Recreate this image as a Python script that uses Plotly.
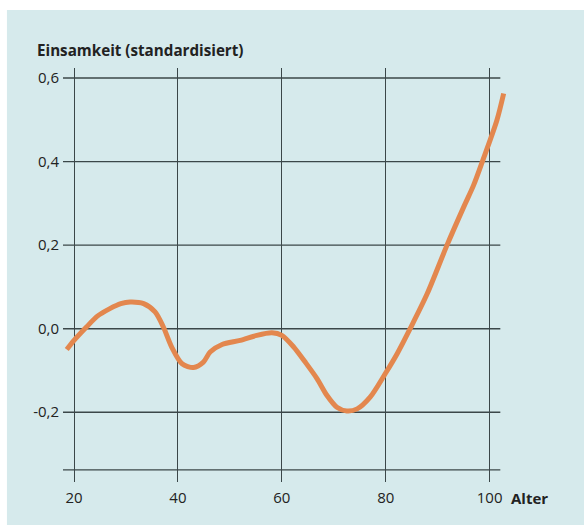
import plotly.graph_objects as go

# ---- data ----
age = [18.6, 20.0, 22.4, 24.5, 26.9, 29.0, 30.8, 33.4, 35.6, 37.2, 38.8, 40.8,
       43.0, 44.9, 46.2, 48.5, 52.0, 55.2, 58.1, 60.0, 62.3, 64.5, 66.8, 68.7,
       70.6, 72.5, 74.5, 77.0, 79.9, 82.2, 84.7, 88.0, 91.8, 95.0, 96.9, 98.6,
       101.4, 102.7]
loneliness = [-0.050, -0.028, 0.004, 0.030, 0.048, 0.060, 0.064, 0.060, 0.040,
              0.004, -0.044, -0.084, -0.093, -0.080, -0.056, -0.038, -0.028,
              -0.016, -0.010, -0.016, -0.044, -0.080, -0.120, -0.160, -0.188,
              -0.197, -0.192, -0.164, -0.108, -0.060, 0.000, 0.084, 0.200,
              0.291, 0.343, 0.400, 0.499, 0.563]

x_ticks = [20, 40, 60, 80, 100]
x_tick_labels = ["20", "40", "60", "80", "100"]
y_ticks = [0.6, 0.4, 0.2, 0.0, -0.2]
y_tick_labels = ["0,6", "0,4", "0,2", "0,0", "-0,2"]
y_baseline = -0.338

# ---- layout geometry ----
W, H = 584, 525
L, R, T, B = 63, 512.6, 68, 482
x_range = [17.88, 104.5]
y_range = [-0.367, 0.624]
grid_x_end = 102.06

def px(xp):
    return (xp - L) / (R - L)

def py(yp):
    return (B - yp) / (B - T)

panel = "#d6eaec"
grid = "#3b4749"
txt = "#222222"
font_fam = "Open Sans"

fig = go.Figure()
fig.add_trace(go.Scatter(
    x=age, y=loneliness, mode="lines",
    line=dict(color="#e3874e", width=5, shape="spline", smoothing=0.8),
    hoverinfo="skip", showlegend=False))

shapes = [dict(type="rect", xref="paper", yref="paper",
               x0=px(7), x1=px(W + 5), y0=py(10), y1=py(H + 5),
               fillcolor=panel, line=dict(width=0), layer="below")]
for yv in y_ticks + [y_baseline]:
    shapes.append(dict(type="line", xref="x", yref="y",
                       x0=x_range[0], x1=grid_x_end, y0=yv, y1=yv,
                       line=dict(color=grid, width=1.4), layer="below"))

fig.update_layout(
    width=W, height=H,
    margin=dict(l=L, r=W - R, t=T, b=H - B, pad=0),
    paper_bgcolor="white", plot_bgcolor="rgba(0,0,0,0)",
    shapes=shapes,
    font=dict(family=font_fam, size=15, color=txt),
    xaxis=dict(range=x_range, tickvals=x_ticks, ticktext=x_tick_labels,
               showgrid=True, gridcolor=grid, gridwidth=1.4,
               zeroline=False, showline=False, ticks="",
               ticklabelstandoff=5, tickfont=dict(size=15, color=txt)),
    yaxis=dict(range=y_range, tickvals=y_ticks, ticktext=y_tick_labels,
               showgrid=False, zeroline=False, showline=False, ticks="",
               ticklabelstandoff=3, tickfont=dict(size=15, color=txt)),
    annotations=[
        dict(text="<b>Einsamkeit (standardisiert)</b>", xref="paper", yref="paper",
             x=px(35), y=py(50), xanchor="left", yanchor="middle",
             showarrow=False, font=dict(size=15.2, color=txt, family=font_fam)),
        dict(text="<b>Alter</b>", xref="paper", yref="paper",
             x=px(509), y=py(498), xanchor="left", yanchor="middle",
             showarrow=False, font=dict(size=15, color=txt, family=font_fam)),
    ],
)

fig.write_html("out.html", config={"displayModeBar": False},
               post_script="document.body.style.margin='0';document.body.style.padding='0';")
